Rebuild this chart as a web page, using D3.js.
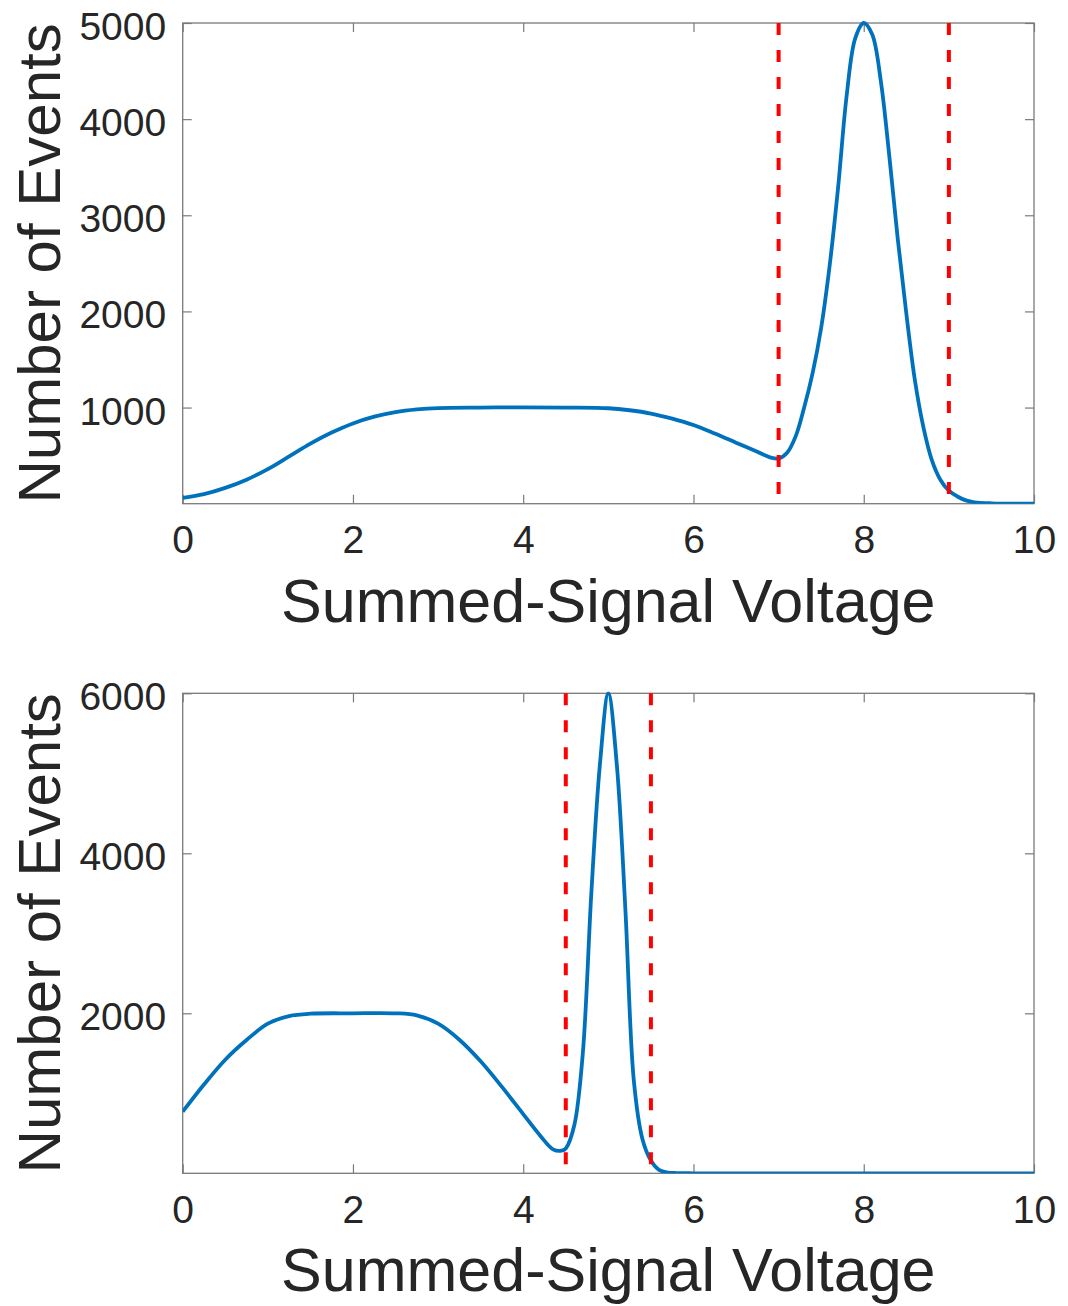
<!DOCTYPE html>
<html>
<head>
<meta charset="utf-8">
<script src="https://cdn.jsdelivr.net/npm/d3@7"></script>
<style>
  html, body { margin: 0; padding: 0; background: #fff; }
  svg { display: block; }
</style>
</head>
<body>
<svg id="chart" width="1068" height="1306"></svg>
<script>
// ---------- data ----------
const voltage1 = [0, 0.25, 0.5, 0.75, 1.0, 1.25, 1.5, 1.75, 2.0, 2.25, 2.5, 2.75, 3.0, 3.5, 4.0, 4.5, 5.0, 5.25, 5.5, 5.75, 6.0, 6.25, 6.5, 6.75, 6.9, 7.0,
  7.1, 7.2, 7.3, 7.4, 7.5, 7.6, 7.7, 7.8, 7.9, 8.0, 8.1, 8.2, 8.3, 8.4, 8.5, 8.6, 8.7, 8.8, 8.9, 9.0, 9.1, 9.2, 9.3, 9.5, 10];
const events1 = [60, 100, 165, 250, 360, 492, 625, 740, 835, 905, 952, 980, 995, 1000, 1002, 1000, 993, 972, 938, 885, 818, 730, 635, 540, 482, 470,
  530, 700, 1000, 1360, 1830, 2480, 3300, 4250, 4840, 5000, 4880, 4400, 3620, 2750, 1980, 1290, 800, 454, 250, 135, 75, 35, 15, 4, 0];
const cuts1 = [7, 9];

const voltage2 = [0, 0.25, 0.5, 0.75, 1.0, 1.25, 1.5, 2.0, 2.5, 2.75, 3.0, 3.25, 3.5, 3.75, 4.0, 4.2, 4.35, 4.45, 4.5,
  4.6, 4.7, 4.8, 4.9, 5.0, 5.1, 5.2, 5.3, 5.4, 5.5, 5.6, 5.7, 5.8, 6.0, 10];
const events2 = [770, 1110, 1420, 1666, 1870, 1965, 1995, 2000, 2000, 1975, 1870, 1670, 1400, 1080, 740, 470, 300, 282, 310,
  600, 1500, 3500, 5100, 6000, 5100, 3300, 1150, 430, 160, 40, 10, 3, 0, 0];
const cuts2 = [4.5, 5.5];

const xTicks = [0, 2, 4, 6, 8, 10];
const yTicks1 = [1000, 2000, 3000, 4000, 5000];
const yTicks2 = [2000, 4000, 6000];
const xLabel = "Summed-Signal Voltage";
const yLabel = "Number of Events";

// ---------- layout ----------
const FONT = "'Liberation Sans', Arial, Helvetica, sans-serif";
const TEXT = "#262626";
const AXIS = "#7a7a7a";
const BLUE = "#0072BD";
const RED = "#FF0000";
const left = 182.7, right = 1034;

const panels = [
  { xs: voltage1, ys: events1, cuts: cuts1, yTicks: yTicks1, yMax: 5000, top: 23, bottom: 503.7 },
  { xs: voltage2, ys: events2, cuts: cuts2, yTicks: yTicks2, yMax: 6000, top: 693.3, bottom: 1173.3 }
];

const svg = d3.select("#chart");

panels.forEach((p, i) => {
  const x = d3.scaleLinear().domain([0, 10]).range([left, right]);
  const y = d3.scaleLinear().domain([0, p.yMax]).range([p.bottom, p.top]);
  const g = svg.append("g");

  const clipId = "clip" + i;
  svg.append("defs").append("clipPath").attr("id", clipId)
    .append("rect").attr("x", left).attr("y", p.top - 2)
    .attr("width", right - left).attr("height", p.bottom - p.top + 2);

  // mirrored inner ticks on top and right
  g.append("g").attr("transform", `translate(0,${p.top})`)
    .call(d3.axisTop(x).tickValues(xTicks).tickSize(-9).tickFormat(""))
    .call(a => a.select(".domain").remove())
    .call(a => a.selectAll("line").attr("stroke", AXIS).attr("stroke-width", 1.2));
  g.append("g").attr("transform", `translate(${right},0)`)
    .call(d3.axisRight(y).tickValues(p.yTicks).tickSize(-9).tickFormat(""))
    .call(a => a.select(".domain").remove())
    .call(a => a.selectAll("line").attr("stroke", AXIS).attr("stroke-width", 1.2));

  // bottom axis
  g.append("g").attr("transform", `translate(0,${p.bottom})`)
    .call(d3.axisBottom(x).tickValues(xTicks).tickSize(-9).tickPadding(0).tickFormat(d3.format("d")))
    .call(a => a.select(".domain").remove())
    .call(a => a.selectAll("line").attr("stroke", AXIS).attr("stroke-width", 1.2))
    .call(a => a.selectAll("text").attr("dy", null).attr("y", 49.5)
      .attr("fill", TEXT).style("font-family", FONT).style("font-size", "39px"));

  // left axis
  g.append("g").attr("transform", `translate(${left},0)`)
    .call(d3.axisLeft(y).tickValues(p.yTicks).tickSize(-9).tickPadding(0).tickFormat(d3.format("d")))
    .call(a => a.select(".domain").remove())
    .call(a => a.selectAll("line").attr("stroke", AXIS).attr("stroke-width", 1.2))
    .call(a => a.selectAll("text").attr("dy", null).attr("x", -16.5).attr("y", 16.5)
      .attr("text-anchor", "end")
      .attr("fill", TEXT).style("font-family", FONT).style("font-size", "39px"));

  // frame
  g.append("rect")
    .attr("x", left).attr("y", p.top)
    .attr("width", right - left).attr("height", p.bottom - p.top)
    .attr("fill", "none").attr("stroke", AXIS).attr("stroke-width", 1.3);

  // data line
  const data = p.xs.map((v, k) => [v, p.ys[k]]);
  g.append("path")
    .datum(data)
    .attr("clip-path", `url(#${clipId})`)
    .attr("fill", "none")
    .attr("stroke", BLUE)
    .attr("stroke-width", 3.8)
    .attr("stroke-linejoin", "round")
    .attr("d", d3.line().x(d => x(d[0])).y(d => y(d[1])).curve(d3.curveCatmullRom.alpha(0.5)));

  // cut lines
  g.selectAll("line.cut")
    .data(p.cuts)
    .enter().append("line")
    .attr("class", "cut")
    .attr("x1", d => x(d)).attr("x2", d => x(d))
    .attr("y1", p.top).attr("y2", p.bottom)
    .attr("stroke", RED)
    .attr("stroke-width", 4)
    .attr("stroke-dasharray", "12,15");

  // axis titles
  g.append("text")
    .attr("x", (left + right) / 2)
    .attr("y", p.bottom + 118)
    .attr("text-anchor", "middle")
    .attr("fill", TEXT)
    .style("font-family", FONT).style("font-size", "61px")
    .text(xLabel);

  g.append("text")
    .attr("transform", `translate(60,${(p.top + p.bottom) / 2}) rotate(-90)`)
    .attr("text-anchor", "middle")
    .attr("fill", TEXT)
    .style("font-family", FONT).style("font-size", "60px")
    .text(yLabel);
});
</script>
</body>
</html>
